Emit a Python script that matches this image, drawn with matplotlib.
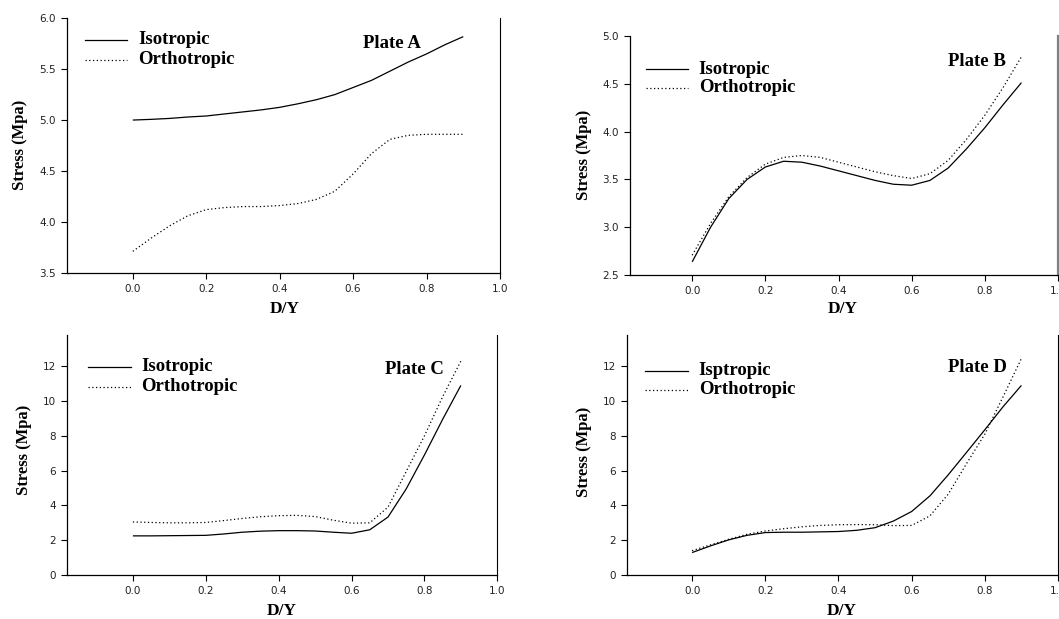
import numpy as np
import matplotlib
matplotlib.use('Agg')
import matplotlib.pyplot as plt
from matplotlib.lines import Line2D

W, H = 1059, 619

# D/Y positions
d_y = [0.0, 0.05, 0.1, 0.15, 0.2, 0.25, 0.3, 0.35, 0.4, 0.45,
       0.5, 0.55, 0.6, 0.65, 0.7, 0.75, 0.8, 0.85, 0.9]

# Plate A
a_iso = [5.00, 5.007, 5.016, 5.03, 5.04, 5.06, 5.08, 5.10, 5.125, 5.16,
         5.20, 5.25, 5.32, 5.39, 5.48, 5.57, 5.65, 5.74, 5.82]
a_orth = [3.71, 3.84, 3.96, 4.06, 4.12, 4.14, 4.15, 4.15, 4.16, 4.18,
          4.22, 4.30, 4.47, 4.67, 4.81, 4.85, 4.86, 4.86, 4.86]

# Plate B
b_iso = [2.64, 3.00, 3.30, 3.50, 3.63, 3.69, 3.68, 3.64, 3.59, 3.54,
         3.49, 3.45, 3.44, 3.49, 3.62, 3.82, 4.04, 4.28, 4.51]
b_orth = [2.71, 3.04, 3.32, 3.52, 3.66, 3.73, 3.75, 3.73, 3.68, 3.63,
          3.58, 3.54, 3.51, 3.56, 3.70, 3.92, 4.17, 4.46, 4.78]

# Plate C
c_iso = [2.25, 2.25, 2.26, 2.27, 2.28, 2.36, 2.46, 2.52, 2.55, 2.55,
         2.53, 2.46, 2.40, 2.60, 3.33, 4.95, 6.90, 8.95, 10.9]
c_orth = [3.05, 3.02, 3.00, 3.00, 3.02, 3.13, 3.25, 3.35, 3.41, 3.43,
          3.36, 3.15, 2.98, 3.00, 3.90, 5.95, 8.00, 10.25, 12.3]

# Plate D
d_iso = [1.29, 1.67, 2.02, 2.28, 2.44, 2.46, 2.46, 2.48, 2.50, 2.57,
         2.72, 3.10, 3.65, 4.55, 5.76, 7.05, 8.35, 9.68, 10.9]
d_orth = [1.40, 1.73, 2.05, 2.34, 2.53, 2.66, 2.77, 2.85, 2.89, 2.90,
          2.89, 2.84, 2.85, 3.40, 4.65, 6.40, 8.10, 10.25, 12.45]

x_ticks = [0.0, 0.2, 0.4, 0.6, 0.8, 1.0]
y_ticks_a = [3.5, 4.0, 4.5, 5.0, 5.5, 6.0]
y_ticks_b = [2.5, 3.0, 3.5, 4.0, 4.5, 5.0]
y_ticks_cd = [0, 2, 4, 6, 8, 10, 12]

serif = 'Liberation Serif'
dots = (0, (1, 2))

fig = plt.figure(figsize=(W / 100, H / 100), dpi=100)


def px(x, y):
    return x / W, 1 - y / H


def make_axes(x0, y0, x1, y1):
    return fig.add_axes([x0 / W, 1 - y1 / H, (x1 - x0) / W, (y1 - y0) / H])


panels = [
    # box, data, ylim, yticks, fmt, xlim-left, legend, plate, labels, right spine
    dict(box=(66.7, 18.3, 500, 272.7), iso=a_iso, orth=a_orth, ylim=(3.5, 6.0),
         yt=y_ticks_a, fmt='%.1f', xl=-0.18,
         leg=(84.5, 127.4, 138.5, 40, 59.5), names=('Isotropic', 'Orthotropic'),
         plate=('Plate A', 363, 43.5), xlab=(285, 309), ylab=(20, 145),
         rs=('black', 0.8)),
    dict(box=(630, 35.7, 1058, 275.3), iso=b_iso, orth=b_orth, ylim=(2.5, 5.0),
         yt=y_ticks_b, fmt='%.1f', xl=-0.17,
         leg=(646.4, 688, 698.7, 69, 88), names=('Isotropic', 'Orthotropic'),
         plate=('Plate B', 948.3, 61), xlab=(843, 309), ylab=(584, 155),
         rs=('#808080', 1.6)),
    dict(box=(67.3, 335, 497.3, 575), iso=c_iso, orth=c_orth, ylim=(0, 13.8),
         yt=y_ticks_cd, fmt='%d', xl=-0.18,
         leg=(88.3, 130.7, 141.3, 366.5, 386.5), names=('Isotropic', 'Orthotropic'),
         plate=('Plate C', 384.7, 370), xlab=(282, 611), ylab=(24, 450),
         rs=('black', 0.8)),
    dict(box=(627.3, 335, 1058, 575), iso=d_iso, orth=d_orth, ylim=(0, 13.8),
         yt=y_ticks_cd, fmt='%d', xl=-0.177,
         leg=(645.4, 687.6, 698.7, 370.5, 390), names=('Isptropic', 'Orthotropic'),
         plate=('Plate D', 948.3, 367.7), xlab=(842, 611), ylab=(584, 452),
         rs=('black', 0.8)),
]

for p in panels:
    ax = make_axes(*p['box'])
    ax.plot(d_y, p['iso'], color='black', lw=0.9, solid_capstyle='butt')
    ax.plot(d_y, p['orth'], color='black', lw=0.9, linestyle=dots)
    ax.set_xlim(p['xl'], 1.0)
    ax.set_ylim(*p['ylim'])
    ax.set_xticks(x_ticks)
    ax.set_xticklabels(['%.1f' % t for t in x_ticks])
    ax.set_yticks(p['yt'])
    ax.set_yticklabels([p['fmt'] % t for t in p['yt']])
    ax.spines['top'].set_visible(False)
    for s in ['left', 'bottom']:
        ax.spines[s].set_linewidth(0.9)
    ax.spines['right'].set_color(p['rs'][0])
    ax.spines['right'].set_linewidth(p['rs'][1])
    ax.tick_params(direction='out', length=4, width=0.8, labelsize=7.5,
                   pad=4, colors='black', labelcolor='#222222')
    ax.tick_params(axis='y', right=False)

    # legend drawn in figure pixels
    lx0, lx1, tx, y1, y2 = p['leg']
    for yy, ls, name in [(y1, '-', p['names'][0]), (y2, dots, p['names'][1])]:
        fig.add_artist(Line2D([lx0 / W, lx1 / W], [1 - yy / H, 1 - yy / H],
                              transform=fig.transFigure, color='black',
                              lw=0.9, linestyle=ls))
        fig.text(*px(tx, yy), name, family=serif, weight='bold', fontsize=13.5,
                 ha='left', va='center')

    name, x0, y0 = p['plate']
    fig.text(*px(x0, y0), name, family=serif, weight='bold', fontsize=13.5,
             ha='left', va='center')
    fig.text(*px(*p['xlab']), 'D/Y', family=serif, weight='bold', fontsize=12.5,
             ha='center', va='center')
    fig.text(*px(*p['ylab']), 'Stress (Mpa)', family=serif, weight='bold',
             fontsize=12, ha='center', va='center', rotation=90)

fig.savefig('out.png', dpi=100)
